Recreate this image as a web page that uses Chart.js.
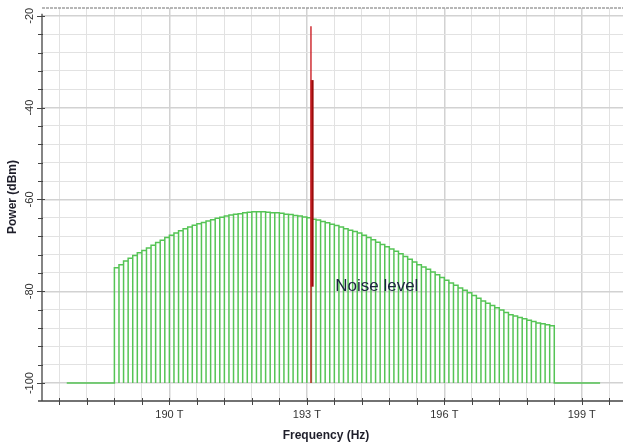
<!DOCTYPE html>
<html>
<head>
<meta charset="utf-8">
<script src="https://cdn.jsdelivr.net/npm/chart.js@4.4.1/dist/chart.umd.min.js"></script>
<style>
  body { margin: 0; background: #fff; }
  #wrap { width: 623px; height: 443px; }
</style>
</head>
<body>
<div id="wrap"><canvas id="spectrum" width="623" height="443"></canvas></div>
<script>
// WDM comb on a 100 GHz grid, one power level per channel (dBm)
const channelStart = 188.8;   // THz, left edge of the first channel
const channelSpacing = 0.1;   // THz
const channelPower = [
  -74.9, -74.2, -73.4, -72.8, -72.2, -71.6, -71.1, -70.6, -70.0, -69.4,
  -68.9, -68.3, -67.8, -67.3, -66.8, -66.4, -66.0, -65.6, -65.3, -65.0,
  -64.7, -64.4, -64.1, -63.9, -63.6, -63.4, -63.2, -63.1, -62.9, -62.8,
  -62.7, -62.7, -62.7, -62.8, -62.9, -62.9, -63.0, -63.2, -63.3, -63.5,
  -63.6, -63.8, -64.0, -64.3, -64.5, -64.8, -65.1, -65.4, -65.7, -66.0,
  -66.4, -66.7, -67.0, -67.3, -67.8, -68.3, -68.8, -69.3, -69.8, -70.3,
  -70.8, -71.3, -71.8, -72.4, -73.0, -73.6, -74.2, -74.7, -75.2, -75.8,
  -76.4, -77.0, -77.6, -78.2, -78.7, -79.3, -79.8, -80.3, -80.9, -81.5,
  -82.1, -82.6, -83.1, -83.6, -84.1, -84.6, -85.1, -85.4, -85.7, -86.0,
  -86.3, -86.6, -86.9, -87.1, -87.3, -87.5
];

// noise floor either side of the comb
const floorLevel = -100;
const floorStart = 187.76;
const floorEnd = 199.4;

// probe signal lines near 193.1 THz
const signalFreq = [193.09, 193.115];
const signalTop = [-22.3, -34];
const signalBottom = [-100, -79];
const signalWidth = [1.4, 3];
const signalColor = ['#cc2026', '#9a0c0c'];

// axis ticks
const xTicks = [187.6, 188.2, 188.8, 189.4, 190, 190.6, 191.2, 191.8, 192.4, 193, 193.6,
  194.2, 194.8, 195.4, 196, 196.6, 197.2, 197.8, 198.4, 199, 199.6];
const xLabelTicks = [190, 193, 196, 199];
const yTicks = [-100, -96, -92, -88, -84, -80, -76, -72, -68, -64, -60,
  -56, -52, -48, -44, -40, -36, -32, -28, -24, -20];
const yLabelTicks = [-100, -80, -60, -40, -20];

const FONT = '"Liberation Sans", Arial, sans-serif';

const isMajor = (list, v) => list.some(m => Math.abs(m - v) < 1e-6);

// comb drawn as adjacent channel boxes sitting on the floor
const combPoints = [{ x: floorStart, y: floorLevel }];
channelPower.forEach((p, i) => {
  const f0 = channelStart + i * channelSpacing;
  const f1 = f0 + channelSpacing;
  combPoints.push({ x: f0, y: floorLevel }, { x: f0, y: p }, { x: f1, y: p }, { x: f1, y: floorLevel });
});
combPoints.push({ x: floorEnd, y: floorLevel });

const datasets = signalFreq.map((f, i) => ({
  data: [{ x: f, y: signalBottom[i] }, { x: f, y: signalTop[i] }],
  borderColor: signalColor[i],
  borderWidth: signalWidth[i],
  pointRadius: 0,
  order: 0
}));
datasets.push({
  data: combPoints,
  borderColor: '#55c455',
  borderWidth: 1.5,
  pointRadius: 0,
  tension: 0,
  order: 1
});

// axis lines, tick marks, labels, titles and the annotation
const decor = {
  id: 'decor',
  afterDraw(chart) {
    const { ctx, chartArea: a, scales: { x, y } } = chart;
    ctx.save();

    ctx.strokeStyle = '#a0a0a0';
    ctx.lineWidth = 1.5;
    ctx.setLineDash([3, 1]);
    ctx.beginPath();
    ctx.moveTo(a.left, a.top);
    ctx.lineTo(a.right, a.top);
    ctx.stroke();
    ctx.setLineDash([]);

    ctx.strokeStyle = '#444';
    ctx.lineWidth = 1.3;
    ctx.beginPath();
    ctx.moveTo(a.left - 4, a.bottom);
    ctx.lineTo(a.right, a.bottom);
    ctx.moveTo(a.left, a.bottom);
    ctx.lineTo(a.left, y.getPixelForValue(-20) - 2);
    ctx.stroke();

    ctx.lineWidth = 1;
    ctx.beginPath();
    xTicks.forEach(v => {
      const px = Math.round(x.getPixelForValue(v)) + 0.5;
      ctx.moveTo(px, a.bottom - 3);
      ctx.lineTo(px, a.bottom + 4);
    });
    yTicks.forEach(v => {
      const py = Math.round(y.getPixelForValue(v)) + 0.5;
      const big = isMajor(yLabelTicks, v);
      ctx.moveTo(a.left - (big ? 5 : 4), py);
      ctx.lineTo(a.left + (big ? 3 : 1), py);
    });
    ctx.stroke();

    ctx.fillStyle = '#333';
    ctx.font = '11px ' + FONT;
    ctx.textAlign = 'center';
    ctx.textBaseline = 'middle';
    xLabelTicks.forEach(v => {
      ctx.fillText(v + ' T', x.getPixelForValue(v), 415);
    });
    yLabelTicks.forEach(v => {
      ctx.save();
      ctx.translate(30, y.getPixelForValue(v));
      ctx.rotate(-Math.PI / 2);
      ctx.fillText(String(v), 0, 0);
      ctx.restore();
    });

    ctx.fillStyle = '#1e1e2a';
    ctx.font = 'bold 12px ' + FONT;
    ctx.fillText('Frequency (Hz)', 326, 436);
    ctx.save();
    ctx.translate(13, 197);
    ctx.rotate(-Math.PI / 2);
    ctx.fillText('Power (dBm)', 0, 0);
    ctx.restore();

    ctx.fillStyle = '#1c2340';
    ctx.font = '17px ' + FONT;
    ctx.textAlign = 'left';
    ctx.fillText('Noise level', x.getPixelForValue(193.62), y.getPixelForValue(-79));

    ctx.restore();
  }
};

new Chart(document.getElementById('spectrum'), {
  type: 'line',
  data: { datasets },
  options: {
    responsive: false,
    animation: false,
    layout: { padding: { top: 8, right: 0, left: 0, bottom: 0 } },
    plugins: { legend: { display: false }, tooltip: { enabled: false } },
    elements: { line: { borderJoinStyle: 'miter' } },
    scales: {
      x: {
        type: 'linear',
        min: 187.22,
        max: 199.9,
        afterBuildTicks: s => { s.ticks = xTicks.map(v => ({ value: v })); },
        afterFit: s => { s.height = 42; },
        ticks: { display: false },
        border: { display: false },
        grid: {
          drawTicks: false,
          color: c => isMajor(xLabelTicks, c.tick.value) ? '#d2d2d2' : '#e2e2e2',
          lineWidth: c => isMajor(xLabelTicks, c.tick.value) ? 1.5 : 1
        }
      },
      y: {
        type: 'linear',
        min: -103.9,
        max: -18.3,
        afterBuildTicks: s => { s.ticks = yTicks.map(v => ({ value: v })); },
        afterFit: s => { s.width = 42; },
        ticks: { display: false },
        border: { display: false },
        grid: {
          drawTicks: false,
          color: c => isMajor(yLabelTicks, c.tick.value) ? '#d2d2d2' : '#e2e2e2',
          lineWidth: c => isMajor(yLabelTicks, c.tick.value) ? 1.5 : 1
        }
      }
    }
  },
  plugins: [decor]
});
</script>
</body>
</html>
